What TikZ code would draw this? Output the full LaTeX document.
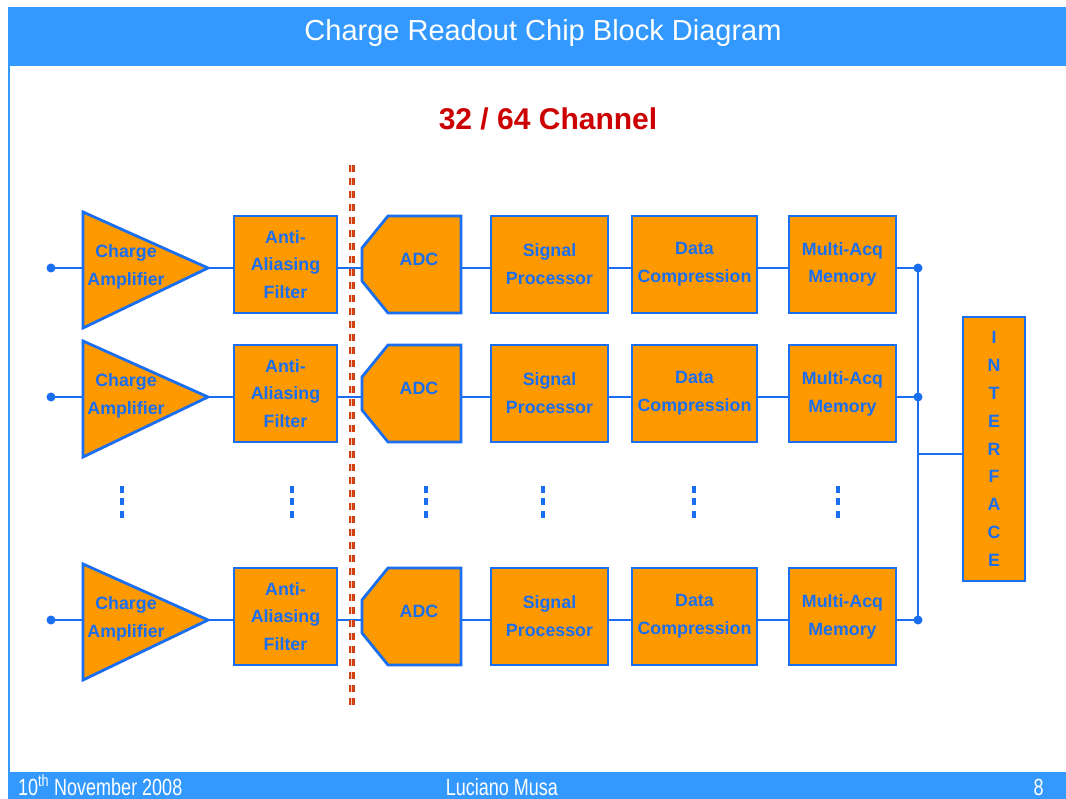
\documentclass[tikz,border=0pt]{standalone}
\usepackage{fontspec}
\setmainfont{Liberation Sans}
\definecolor{barblue}{HTML}{3399FF}
\definecolor{lineblue}{HTML}{1A6EF0}
\definecolor{boxorange}{HTML}{FF9900}
\definecolor{chred}{HTML}{CC0000}
\definecolor{dashred}{HTML}{D04010}
\begin{document}
\begin{tikzpicture}[x=1pt,y=-1pt,
  blk/.style={draw=lineblue, fill=boxorange, line width=2.8pt, inner sep=0pt, text=lineblue,
    font=\bfseries\fontsize{17.8}{27.8}\selectfont, align=center},
  shp/.style={draw=lineblue, fill=boxorange, line width=2.8pt, line join=miter},
  txt/.style={text=lineblue, font=\bfseries\fontsize{17.8}{27.8}\selectfont, align=center, inner sep=0pt},
  wire/.style={draw=lineblue, line width=2.8pt},
  jdot/.style={circle, fill=lineblue, inner sep=0pt, minimum size=9pt},
  foot/.style={text=white, font=\fontsize{18}{18}\selectfont, inner sep=0pt}]
\useasboundingbox (0,0) rectangle (1066,799);
\fill[white] (0,0) rectangle (1066,799);
% title bar
\fill[barblue] (8,7) rectangle (1066,66);
\draw[barblue, line width=1.5pt] (8.75,66) -- (8.75,772);
\node[text=white, font=\fontsize{29}{30}\selectfont, inner sep=0pt] (title) at (543,33) {Charge Readout Chip Block Diagram};
% footer
\fill[barblue] (8,772) rectangle (1066,799);
\node[foot, anchor=base west] (date) at (18,795) {\scalebox{1}[1.3]{10\textsuperscript{th} November 2008}};
\node[foot, anchor=base] (author) at (502,795) {\scalebox{1}[1.3]{Luciano Musa}};
\node[foot, anchor=base] (page) at (1038.5,795) {\scalebox{1}[1.3]{8}};
% channel label
\node[text=chred, font=\bfseries\fontsize{30}{30}\selectfont, inner sep=0pt] (chan) at (548,119) {32 / 64 Channel};
% rows
\foreach \r/\y in {a/268, b/397, c/620}{
  \coordinate (in\r) at (51,\y);
  \coordinate (ampin\r) at (83,\y);
  \coordinate (ampout\r) at (208,\y);
  \coordinate (adcin\r) at (362,\y);
  \coordinate (adcout\r) at (461,\y);
  \coordinate (bus\r) at (918,\y);
  \draw[shp] (83,\y-56) -- (208,\y) -- (83,\y+60) -- cycle;
  \node[txt] (amptxt\r) at (126,\y-1) {Charge\\Amplifier};
  \node[blk, minimum width=103pt, minimum height=97pt] (aaf\r) at (285.5,\y-3.5) {Anti-\\Aliasing\\Filter};
  \draw[shp] (388,\y-52) -- (461,\y-52) -- (461,\y+45) -- (388,\y+45) -- (362,\y+13) -- (362,\y-20) -- cycle;
  \node[txt] (adctxt\r) at (419,\y-9) {ADC};
  \node[blk, minimum width=117pt, minimum height=97pt] (sig\r) at (549.5,\y-3.5) {Signal\\Processor};
  \node[blk, minimum width=125pt, minimum height=97pt] (dat\r) at (694.5,\y-3.5) {Data\\Compression};
  \node[blk, minimum width=107pt, minimum height=97pt] (mem\r) at (842.5,\y-3.5) {Multi-Acq\\Memory};
  \draw[wire] (in\r) -- (ampin\r);
  \draw[wire] (ampout\r) -- (ampout\r -| aaf\r.west);
  \draw[wire] (adcin\r -| aaf\r.east) -- (adcin\r);
  \draw[wire] (adcout\r) -- (adcout\r -| sig\r.west);
  \draw[wire] (adcout\r -| sig\r.east) -- (adcout\r -| dat\r.west);
  \draw[wire] (adcout\r -| dat\r.east) -- (adcout\r -| mem\r.west);
  \draw[wire] (adcout\r -| mem\r.east) -- (bus\r);
  \node[jdot] (indot\r) at (in\r) {};
  \node[jdot] (busdot\r) at (bus\r) {};
}
% interface
\node[blk, minimum width=62pt, minimum height=264pt] (iface) at (994,449) {I\\N\\T\\E\\R\\F\\A\\C\\E};
\coordinate (busmid) at (918,454);
\draw[wire] (busa) -- (busc);
\draw[wire] (busmid) -- (busmid -| iface.west);
% continuation dots
\foreach \x in {122,292,426,543,694,838}{
  \foreach \yy in {489,501,514}{
    \fill[lineblue] (\x-2.2,\yy-3.5) rectangle (\x+2.2,\yy+3.5);
  }
}
% dashed boundary
\draw[dashred, line width=6pt, dash pattern=on 7pt off 6pt] (352,165) -- (352,707);
\draw[white!70!dashred, line width=0.9pt, dash pattern=on 7pt off 6pt] (351.5,165) -- (351.5,707);
\end{tikzpicture}
\end{document}
